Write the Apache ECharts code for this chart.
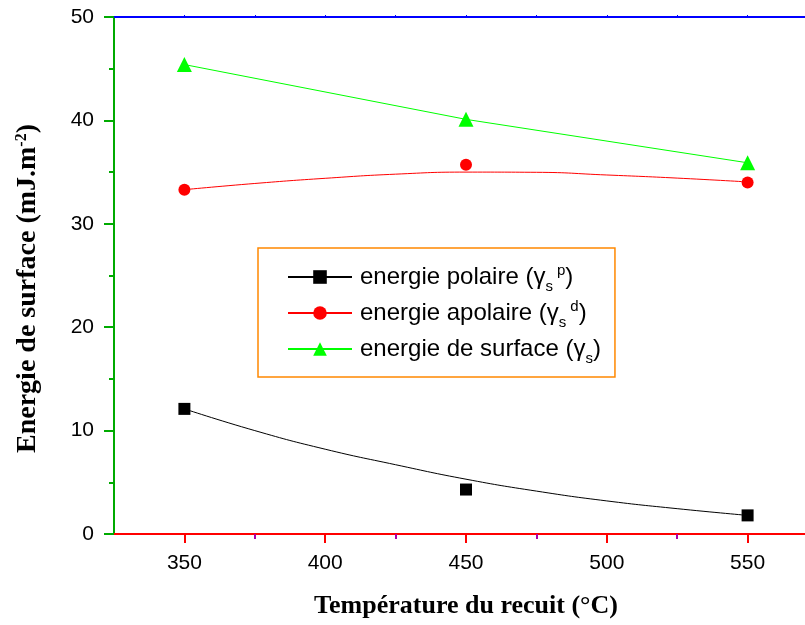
<!DOCTYPE html>
<html>
<head>
<meta charset="utf-8">
<script src="https://cdn.jsdelivr.net/npm/echarts@6/dist/echarts.min.js"></script>
<style>
    html, body { margin: 0; padding: 0; background: #fff; overflow: hidden; }
    #chart { width: 840px; height: 625px; }
</style>
</head>
<body>
<div id="chart"></div>
<script>
// measured points
var temperatures = [350, 450, 550];
var polaire = [12.1, 4.3, 1.8];
var apolaire = [33.3, 35.7, 34.0];
var surface = [45.4, 40.1, 35.9];

// fitted curves
var fitX = [350, 375, 400, 425, 450, 475, 500, 525, 550];
var polaireFit = [12.1, 10.0, 8.2, 6.7, 5.3, 4.15, 3.2, 2.45, 1.8];
var apolaireFit = [33.3, 33.9, 34.4, 34.8, 35.0, 34.98, 34.72, 34.42, 34.05];

// axis ticks
var xMajor = [350, 400, 450, 500, 550];
var xMinor = [375, 425, 475, 525];
var xTop = [350, 375, 400, 425, 450, 475, 500, 525, 550];

var seriesNames = ['energie polaire', 'energie apolaire', 'energie de surface'];
var legendLabels = {
    'energie polaire': 'energie polaire (γ{sub|s}{sup|p})',
    'energie apolaire': 'energie apolaire (γ{sub|s}{sup|d})',
    'energie de surface': 'energie de surface (γ{sub|s})'
};

function pairs(xs, ys) {
    return xs.map(function (x, i) { return [x, ys[i]]; });
}

var chart = echarts.init(document.getElementById('chart'));

var tickFont = {
    fontFamily: 'Liberation Sans',
    fontSize: 21,
    color: '#000'
};

var option = {
    backgroundColor: '#fff',
    animation: false,
    grid: {
        left: 114,
        top: 17,
        width: 704,
        height: 517,
        outerBoundsMode: 'none'
    },
    legend: {
        data: seriesNames,
        orient: 'vertical',
        left: 258,
        top: 248,
        padding: [12, 14, 11, 29],
        itemGap: 2,
        itemWidth: 64,
        itemHeight: 17,
        borderColor: '#f80',
        borderWidth: 1.5,
        formatter: function (name) {
            return legendLabels[name];
        },
        textStyle: {
            fontFamily: 'Liberation Sans',
            fontSize: 24,
            color: '#000',
            lineHeight: 34,
            padding: [0, 0, 0, 3],
            rich: {
                sub: { fontFamily: 'Liberation Sans', fontSize: 15, lineHeight: 15, verticalAlign: 'bottom', color: '#000' },
                sup: { fontFamily: 'Liberation Sans', fontSize: 15, lineHeight: 15, verticalAlign: 'top', padding: [3, 0, 0, 4], color: '#000' }
            }
        }
    },
    xAxis: [
        {
            type: 'value', min: 325, max: 575, position: 'bottom',
            name: 'Température du recuit (°C)', nameLocation: 'middle', nameGap: 59,
            nameTextStyle: { fontFamily: 'Liberation Serif', fontWeight: 'bold', fontSize: 26, color: '#000' },
            axisLine: { show: true, onZero: false, lineStyle: { color: '#f00', width: 2 } },
            axisTick: { show: true, customValues: xMajor, length: 9, lineStyle: { color: '#f00', width: 2 } },
            axisLabel: Object.assign({ customValues: xMajor, margin: 19 }, tickFont),
            splitLine: { show: false }
        },
        {
            type: 'value', min: 325, max: 575, position: 'bottom',
            axisLine: { show: false },
            axisTick: { show: true, customValues: xMinor, length: 5, lineStyle: { color: '#a0a', width: 2 } },
            axisLabel: { show: false },
            splitLine: { show: false }
        },
        {
            type: 'value', min: 325, max: 575, position: 'top',
            axisLine: { show: true, onZero: false, lineStyle: { color: '#00f', width: 2 } },
            axisTick: { show: true, customValues: xTop, length: 2, lineStyle: { color: '#00f', width: 1 } },
            axisLabel: { show: false },
            splitLine: { show: false }
        }
    ],
    yAxis: [
        {
            type: 'value', min: 0, max: 50, interval: 10, position: 'left',
            name: 'Energie de surface (mJ.m{sup|-2})', nameLocation: 'middle', nameGap: 72,
            nameTextStyle: {
                fontFamily: 'Liberation Serif', fontWeight: 'bold', fontSize: 28, color: '#000',
                padding: [0, 26, 0, 0],
                rich: { sup: { fontFamily: 'Liberation Serif', fontWeight: 'bold', fontSize: 16, verticalAlign: 'top', color: '#000' } }
            },
            axisLine: { show: true, onZero: false, lineStyle: { color: '#0a0', width: 2 } },
            axisTick: { show: true, length: 10, lineStyle: { color: '#0a0', width: 2 } },
            minorTick: { show: true, splitNumber: 2, length: 5, lineStyle: { color: '#0a0', width: 2 } },
            axisLabel: Object.assign({ margin: 20 }, tickFont),
            splitLine: { show: false }
        }
    ],
    series: [
        { name: 'energie polaire', type: 'line', data: pairs(fitX, polaireFit), smooth: true, showSymbol: false,
          symbol: 'rect', symbolSize: 12, itemStyle: { color: '#000' }, lineStyle: { color: '#000', width: 1 }, z: 2 },
        { name: 'energie polaire', type: 'scatter', data: pairs(temperatures, polaire), symbol: 'rect', symbolSize: 12,
          itemStyle: { color: '#000', opacity: 1 }, z: 3 },
        { name: 'energie apolaire', type: 'line', data: pairs(fitX, apolaireFit), smooth: true, showSymbol: false,
          symbol: 'circle', symbolSize: 13, itemStyle: { color: '#ff0000' }, lineStyle: { color: '#ff0000', width: 1 }, z: 2 },
        { name: 'energie apolaire', type: 'scatter', data: pairs(temperatures, apolaire), symbol: 'circle', symbolSize: 12,
          itemStyle: { color: '#ff0000', opacity: 1 }, z: 3 },
        { name: 'energie de surface', type: 'line', data: pairs(temperatures, surface), symbol: 'triangle', symbolSize: 15,
          itemStyle: { color: '#00ff00' }, lineStyle: { color: '#00ff00', width: 1 }, z: 3 }
    ]
};

chart.setOption(option);
</script>
</body>
</html>
